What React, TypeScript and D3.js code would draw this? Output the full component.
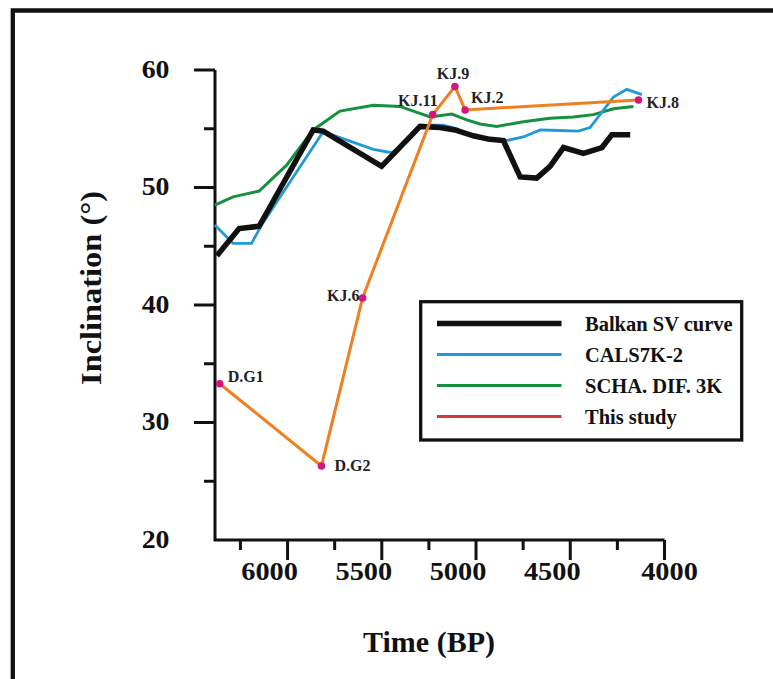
import * as d3 from "d3";

// Balkan SV curve
const balkanYears = [6375, 6257, 6151, 5864, 5811, 5501, 5297, 5191, 5112, 5014, 4926, 4855, 4766, 4678, 4607, 4536, 4430, 4332, 4279, 4182];
const balkanInc = [44.2, 46.5, 46.7, 54.9, 54.8, 51.8, 55.2, 55.1, 54.9, 54.4, 54.1, 54.0, 50.9, 50.8, 51.8, 53.4, 52.9, 53.4, 54.5, 54.5];

// CALS7K-2
const calsYears = [6386, 6289, 6191, 6138, 5811, 5545, 5448, 5380, 5300, 5243, 5175, 5100, 5014, 4926, 4837, 4749, 4660, 4554, 4457, 4395, 4271, 4200, 4120];
const calsInc = [46.8, 45.25, 45.25, 46.8, 54.75, 53.25, 52.96, 53.7, 55.1, 55.3, 55.3, 55.0, 54.3, 54.0, 54.0, 54.3, 54.9, 54.85, 54.8, 55.1, 57.7, 58.35, 57.9];

// SCHA.DIF.3K
const schaYears = [6386, 6289, 6151, 6005, 5864, 5722, 5545, 5404, 5244, 5129, 5049, 4979, 4890, 4749, 4607, 4483, 4377, 4271, 4165];
const schaInc = [48.5, 49.2, 49.7, 51.9, 54.9, 56.5, 57.0, 56.9, 56.0, 56.25, 55.75, 55.4, 55.2, 55.6, 55.9, 56.0, 56.2, 56.7, 56.9];

// This study
const sampleNames = ["D.G1", "D.G2", "KJ.6", "KJ.11", "KJ.9", "KJ.2", "KJ.8"];
const sampleYears = [6360, 5820, 5602, 5230, 5112, 5058, 4138];
const sampleInc = [33.3, 26.3, 40.6, 56.2, 58.6, 56.6, 57.45];

const xMajor = [6000, 5500, 5000, 4500, 4000];
const xMinor = [6250, 5750, 5250, 4750, 4250];
const yMajor = [30, 40, 50, 60];
const yLabels = [20, 30, 40, 50, 60];
const yMinor = [25, 35, 45, 55];

const legendNames = ["Balkan SV curve", "CALS7K-2", "SCHA. DIF. 3K", "This study"];

const W = 773;
const H = 679;
const font = "'Liberation Serif', 'Times New Roman', serif";

const x = d3.scaleLinear().domain([6385, 4000]).range([215, 664.5]);
const y = d3.scaleLinear().domain([20, 60]).range([540, 70]);

const line = d3
  .line<[number, number]>()
  .x((d) => x(d[0]))
  .y((d) => y(d[1]));

const zip = (a: number[], b: number[]) => a.map((v, i) => [v, b[i]] as [number, number]);

// label placement relative to each marker
const labelPos: Record<string, { dx: number; dy: number; anchor: string }> = {
  "D.G1": { dx: 8, dy: -2, anchor: "start" },
  "D.G2": { dx: 13, dy: 5, anchor: "start" },
  "KJ.6": { dx: -3, dy: 3, anchor: "end" },
  "KJ.11": { dx: 5, dy: -9, anchor: "end" },
  "KJ.9": { dx: -2, dy: -7, anchor: "middle" },
  "KJ.2": { dx: 6, dy: -7, anchor: "start" },
  "KJ.8": { dx: 8, dy: 8, anchor: "start" },
};

const legendStyle = [
  { color: "#111", width: 5.5 },
  { color: "#1f9ad7", width: 3 },
  { color: "#17903d", width: 3 },
  { color: "#d43a2f", width: 3.2 },
];

export default function App() {
  const axisX = x.range()[0];
  const axisY = y.range()[0];

  return (
    <svg
      width={W}
      height={H}
      style={{ position: "absolute", left: 0, top: 0, background: "#fff" }}
      fontFamily={font}
      fontWeight="bold"
    >
      {/* outer frame: only the top and left edges fall inside the page */}
      <path d={`M12.8,${H + 20}V10.5H${W + 20}`} fill="none" stroke="#111" strokeWidth={4.3} />

      {/* axes */}
      <g stroke="#111" strokeWidth={3} fill="none">
        <path d={`M${axisX},${y(60)}V${axisY}H${x(4000)}`} strokeLinejoin="miter" />
        {yMajor.map((t) => (
          <line key={"ym" + t} x1={axisX - 21} x2={axisX} y1={y(t)} y2={y(t)} />
        ))}
        {yMinor.map((t) => (
          <line key={"yn" + t} x1={axisX - 11} x2={axisX} y1={y(t)} y2={y(t)} />
        ))}
        {xMajor.map((t) => (
          <line key={"xm" + t} x1={x(t)} x2={x(t)} y1={axisY} y2={axisY + 20} />
        ))}
        {xMinor.map((t) => (
          <line key={"xn" + t} x1={x(t)} x2={x(t)} y1={axisY} y2={axisY + 10} />
        ))}
      </g>

      {/* tick labels */}
      <g fontSize={26} fill="#111">
        {yLabels.map((t) => (
          <text
            key={"yl" + t}
            textAnchor="end"
            transform={`translate(169.5,${y(t) + 7.5}) scale(1.07,1)`}
          >
            {t}
          </text>
        ))}
        {xMajor.map((t) => (
          <text
            key={"xl" + t}
            textAnchor="middle"
            transform={`translate(${x(t) + (t === 4000 ? 5 : -18)},580) scale(1.09,1)`}
          >
            {t}
          </text>
        ))}
      </g>

      {/* axis titles */}
      <text x={429} y={652} fontSize={30} textAnchor="middle" fill="#111">
        Time (BP)
      </text>
      <text
        transform="translate(101,288) rotate(-90) scale(1.08,1)"
        fontSize={30}
        textAnchor="middle"
        fill="#111"
      >
        Inclination (°)
      </text>

      {/* series */}
      <g fill="none">
        <path d={line(zip(schaYears, schaInc)) ?? ""} stroke="#17903d" strokeWidth={3} />
        <path d={line(zip(calsYears, calsInc)) ?? ""} stroke="#1f9ad7" strokeWidth={2.8} />
        <path d={line(zip(balkanYears, balkanInc)) ?? ""} stroke="#111" strokeWidth={5.5} />
        <path d={line(zip(sampleYears, sampleInc)) ?? ""} stroke="#f07f1f" strokeWidth={3} />
      </g>

      {/* sample points */}
      <g>
        {sampleNames.map((n, i) => {
          const px = x(sampleYears[i]);
          const py = y(sampleInc[i]);
          const p = labelPos[n];
          return (
            <g key={n}>
              <circle cx={px} cy={py} r={3.8} fill="#d6157f" />
              <text
                x={px + p.dx}
                y={py + p.dy}
                textAnchor={p.anchor}
                fontSize={16}
                fill="#222"
              >
                {n}
              </text>
            </g>
          );
        })}
      </g>

      {/* legend */}
      <g>
        <rect x={420.7} y={301.7} width={321} height={138.3} fill="#fff" stroke="#111" strokeWidth={3.3} />
        {legendNames.map((name, i) => {
          const ly = 323.5 + i * 31;
          return (
            <g key={name}>
              <line
                x1={437}
                x2={561.5}
                y1={ly}
                y2={ly}
                stroke={legendStyle[i].color}
                strokeWidth={legendStyle[i].width}
              />
              <text x={585} y={ly + 7} fontSize={20.5} fill="#111">
                {name}
              </text>
            </g>
          );
        })}
      </g>
    </svg>
  );
}
